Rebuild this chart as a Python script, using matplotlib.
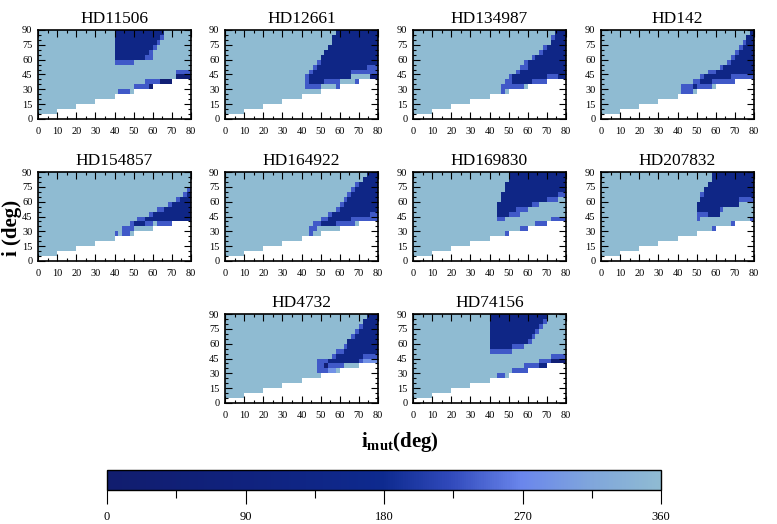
import numpy as np
import matplotlib
matplotlib.use("Agg")
import matplotlib.pyplot as plt
from matplotlib.colors import LinearSegmentedColormap
from matplotlib.ticker import MultipleLocator

plt.rcParams['font.family'] = 'Liberation Serif'
plt.rcParams['mathtext.fontset'] = 'custom'
plt.rcParams['mathtext.rm'] = 'Liberation Serif'
plt.rcParams['mathtext.bf'] = 'Liberation Serif:bold'

# grid: i_mut in 2 deg cells (0-80), i in 5 deg cells (0-90)
imut_edges = np.arange(0, 82, 2)
i_edges = np.arange(0, 95, 5)

# cell codes -> value (0-360), '.' = no data
codes = {'L': 360, 'D': 130, 'M': 235, 'K': 40, 'P': 285}

# left half (i_mut 0-40) of rows i=25..90 is 'L' for every star
left_half = "LLLLLLLLLLLLLLLLLLLL"
# rows i=20-25 ... 0-5, same for every star (top to bottom)
low_rows = [
    "LLLLL LLLLL LLLLL LLLLL ..... ..... ..... .....",
    "LLLLL LLLLL LLLLL ..... ..... ..... ..... .....",
    "LLLLL LLLLL ..... ..... ..... ..... ..... .....",
    "LLLLL ..... ..... ..... ..... ..... ..... .....",
    "..... ..... ..... ..... ..... ..... ..... .....",
]

# right half (i_mut 40-80), rows i=85-90 down to i=25-30
HD11506 = [
    "DDDDD DDDDD DDDLL LLLLL",
    "DDDDD DDDDD DDMLL LLLLL",
    "DDDDD DDDDD DMLLL LLLLL",
    "DDDDD DDDDD MLLLL LLLLL",
    "DDDDD DDDDM LLLLL LLLLL",
    "DDDDD DDDMM LLLLL LLLLL",
    "MMMMM LLLLL LLLLL LLLLL",
    "LLLLL LLLLL LLLLL LLLLL",
    "LLLLL LLLLL LLLLL LMMMM",
    "LLLLL LLLLL LLLLL LKKKK",
    "LLLLL LLLMM MMKKK .....",
    "LLLLL MMMMK ..... .....",
    "LMMML ..... ..... .....",
]
HD12661 = [
    "LLLLL LLLLD DDDDD DDDDD",
    "LLLLL LLLDD DDDDD DDDDD",
    "LLLLL LLLDD DDDDD DDDDD",
    "LLLLL LLDDD DDDDD DDDDD",
    "LLLLL LDDDD DDDDD DDDDD",
    "LLLLL DDDDD DDDDD DDDDD",
    "LLLLM DDDDD DDDDD DDDDD",
    "LLLMD DDDDD DDDDD DDMMM",
    "LLMDD DDDDD DDDMM MMMMM",
    "LMDDD DDDDD DDDLL LLLKK",
    "LMDDD DMMMM LLLLM .....",
    "LMMMM LLLLM ..... .....",
    "LLLLL ..... ..... .....",
]
HD134987 = [
    "LLLLL LLLLL LLLLL LLDDD",
    "LLLLL LLLLL LLLLL LMDDD",
    "LLLLL LLLLL LLLLL LDDDD",
    "LLLLL LLLLL LLLLM DDDDD",
    "LLLLL LLLLL LLLMD DDDDD",
    "LLLLL LLLLL LMDDD DDDDD",
    "LLLLL LLLLM DDDDD DDDDD",
    "LLLLL LLLMM DDDDD DDDDD",
    "LLLLL LLMDD DDDDD DDDDD",
    "LLLLL MDDDD DDDDD MMMDD",
    "LLLLM MDDDD DMMMM .....",
    "LLLMM MMMML ..... .....",
    "LLLML ..... ..... .....",
]
HD142 = [
    "LLLLL LLLLL LLLLL LLLLD",
    "LLLLL LLLLL LLLLL LLLDD",
    "LLLLL LLLLL LLLLL LLMDD",
    "LLLLL LLLLL LLLLL LMDDD",
    "LLLLL LLLLL LLLLL MDDDD",
    "LLLLL LLLLL LLLLM DDDDD",
    "LLLLL LLLLL LLLMD DDDDD",
    "LLLLL LLLLL LMDDD DDDDD",
    "LLLLL LLLMM DDDDD DDDDD",
    "LLLLL LMDDD DDDDM MMMMM",
    "LLLLM MDDDM MMMMM .....",
    "LMMMD MMMML ..... .....",
    "LMMML ..... ..... .....",
]
HD154857 = [
    "LLLLL LLLLL LLLLL LLLLL",
    "LLLLL LLLLL LLLLL LLLLL",
    "LLLLL LLLLL LLLLL LLLLL",
    "LLLLL LLLLL LLLLL LLLLM",
    "LLLLL LLLLL LLLLL LLLMD",
    "LLLLL LLLLL LLLLL LMDDD",
    "LLLLL LLLLL LLLLM DDDDD",
    "LLLLL LLLLL LMMDD DDDDD",
    "LLLLL LLLLM DDDDD DDDDD",
    "LLLLL LMMDD DDDDD DDDDD",
    "LLLLM DDDMM LMMMM .....",
    "LLMMM LLLLL ..... .....",
    "MLMML ..... ..... .....",
]
HD164922 = [
    "LLLLL LLLLL LLLLL LLDDD",
    "LLLLL LLLLL LLLLL LDDDD",
    "LLLLL LLLLL LLLLM DDDDD",
    "LLLLL LLLLL LLLMD DDDDD",
    "LLLLL LLLLL LLMDD DDDDD",
    "LLLLL LLLLL LMDDD DDDDD",
    "LLLLL LLLLL MDDDD DDDDD",
    "LLLLL LLLLM DDDDD DDDDD",
    "LLLLL LLMDD DDDDD DDDMM",
    "LLLLL MMDDD DDDMM MMMMM",
    "LLLMM DDDDM MMMML .....",
    "LLMML LLLLL ..... .....",
    "LLMLL ..... ..... .....",
]
HD169830 = [
    "LLLLL DDDDD DDDDD DDDDD",
    "LLLLL DDDDD DDDDD DDDDD",
    "LLLLD DDDDD DDDDD DDDDD",
    "LLLLD DDDDD DDDDD DDDDD",
    "LLLDD DDDDD DDDDD DDDMM",
    "LLLDD DDDDD DDDDD MMMLL",
    "LLDDD DDDDD DMMLL LLLLL",
    "LLDDD DDMMM LLLLL LLLLL",
    "LLDDD MMMLL LLLLL LLLLL",
    "LLMML LLLLL LLLLL LMMMM",
    "LLLLL LLLLL LLMMM .....",
    "LLLLL LLLMM ..... .....",
    "LLLLM ..... ..... .....",
]
HD207832 = [
    "LLLLL LLLLD DDDDD DDDDD",
    "LLLLL LLLLD DDDDD DDDDD",
    "LLLLL LLLDD DDDDD DDDDD",
    "LLLLL LLDDD DDDDD DDDDD",
    "LLLLL LMDDD DDDDD DDDDD",
    "LLLLL LDDDD DDDDD DMMMM",
    "LLLLL DDDDD DDDDD DLLLL",
    "LLLLL DDDDD DMLLL LLLLL",
    "LLLLL MMMDD DLLLL LLLLL",
    "LLLLL MLLLL LLLLL LLLLM",
    "LLLLL LLLLL LLLLM .....",
    "LLLLL LLLLM ..... .....",
    "LLLLL ..... ..... .....",
]
HD4732 = [
    "LLLLL LLLLL LLLLL LLDDD",
    "LLLLL LLLLL LLLLL LDDDD",
    "LLLLL LLLLL LLLLL MDDDD",
    "LLLLL LLLLL LLLLM DDDDD",
    "LLLLL LLLLL LLLMD DDDDD",
    "LLLLL LLLLL LLDDD DDDDD",
    "LLLLL LLLLL LMDDD DDDDD",
    "LLLLL LLLLM MDDDD DDDDD",
    "LLLLL LLLMD DDDDD DMMMM",
    "LLLLM MMDDD DDDDD MPPPP",
    "LLLLM MKMMM MLLLL .....",
    "LLLLM MMPPL ..... .....",
    "LLLLL ..... ..... .....",
]
HD74156 = [
    "DDDDD DDDDD DDDDD LLLLL",
    "DDDDD DDDDD DDDDM LLLLL",
    "DDDDD DDDDD DDDML LLLLL",
    "DDDDD DDDDD DDMLL LLLLL",
    "DDDDD DDDDD DMLLL LLLLL",
    "DDDDD DDDDD MLLLL LLLLL",
    "DDDDD DMMML LLLLL LLLLL",
    "MMMMM MLLLL LLLLL LLLLL",
    "LLLLL LLLLL LLLLL LMMMM",
    "LLLLL LLLLL LLLMM MKKKK",
    "LLLLL LLLLM MMMDD .....",
    "LLLLL LMMMM ..... .....",
    "LLMML ..... ..... .....",
]

stars = ["HD11506", "HD12661", "HD134987", "HD142", "HD154857",
         "HD164922", "HD169830", "HD207832", "HD4732", "HD74156"]
maps = [HD11506, HD12661, HD134987, HD142, HD154857,
        HD164922, HD169830, HD207832, HD4732, HD74156]


def to_grid(right_rows):
    rows = [left_half + r.replace(" ", "") for r in right_rows]
    rows += [r.replace(" ", "") for r in low_rows]
    rows = rows[::-1]  # bottom row first
    grid = np.array([[codes.get(ch, np.nan) for ch in r] for r in rows], dtype=float)
    return np.ma.masked_invalid(grid)


cmap = LinearSegmentedColormap.from_list("orb", [
    (0.0, "#111d6e"), (0.25, "#10227e"), (0.5, "#0e2a8f"),
    (0.62, "#3049bb"), (0.75, "#6a86ec"), (0.87, "#7fa5dc"), (1.0, "#8fbbd2")])

W, H = 777, 524
fig = plt.figure(figsize=(W / 100, H / 100), dpi=100)

col_left = [38, 225, 413, 601]
row_top = [30, 172, 314]
slots = [(0, 0), (0, 1), (0, 2), (0, 3), (1, 0), (1, 1), (1, 2), (1, 3), (2, 1), (2, 2)]
pw, ph = 153, 89

for name, data, (r, c) in zip(stars, maps, slots):
    ax = fig.add_axes([col_left[c] / W, 1 - (row_top[r] + ph) / H, pw / W, ph / H])
    mesh = ax.pcolormesh(imut_edges, i_edges, to_grid(data), cmap=cmap, vmin=0, vmax=360)
    ax.set_xlim(0, 80)
    ax.set_ylim(0, 90)
    ax.set_xticks(range(0, 81, 10))
    ax.set_yticks(range(0, 91, 15))
    ax.xaxis.set_minor_locator(MultipleLocator(5))
    ax.yaxis.set_minor_locator(MultipleLocator(5))
    ax.tick_params(which='both', direction='in', top=True, right=True, labelsize=7.5, width=0.8)
    ax.tick_params(which='major', length=5, pad=6)
    ax.tick_params(which='minor', length=2.5)
    ax.tick_params(axis='y', pad=4)
    for s in ax.spines.values():
        s.set_linewidth(1.2)
    ax.set_title(name, fontsize=12.5, fontweight='normal', pad=5)

fig.text(12 / W, 1 - 228 / H, "i (deg)", rotation=90, fontsize=15, fontweight='bold',
         ha='center', va='center')
fig.text(400 / W, 1 - 442 / H, r"$\mathbf{i_{mut}}$(deg)", fontsize=15, fontweight='bold',
         ha='center', va='center')

cax = fig.add_axes([107 / W, 1 - 490 / H, 554 / W, 20 / H])
cb = fig.colorbar(mesh, cax=cax, orientation='horizontal', ticks=[0, 90, 180, 270, 360])
cax.xaxis.set_minor_locator(MultipleLocator(45))
cax.tick_params(which='major', length=10, width=0.8, labelsize=9, pad=5)
cax.tick_params(which='minor', length=6, width=0.8)
cb.outline.set_linewidth(1.0)

fig.savefig("out.png", dpi=100)
